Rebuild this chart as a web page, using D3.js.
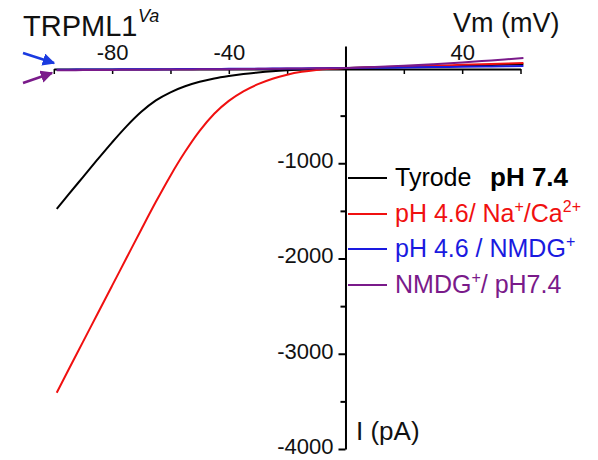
<!DOCTYPE html>
<html><head><meta charset="utf-8">
<script src="https://cdn.jsdelivr.net/npm/d3@7/dist/d3.min.js"></script>
<style>
html,body{margin:0;padding:0;background:#fff;}
svg{display:block;font-family:"Liberation Sans",Arial,sans-serif;}
</style></head>
<body>
<svg id="chart" width="598" height="460"></svg>
<script>
// ---- data ----
const voltage = [-99,-95,-90,-85,-80,-75,-70,-65,-60,-55,-50,-45,-40,-35,-30,-25,-20,-15,-10,-5,0,10,20,30,40,50,61];
const tyrode  = [-1480,-1330,-1145,-960,-780,-610,-460,-340,-255,-192,-145,-110,-84,-63,-47,-34,-24,-16,-9,-4,0,5,11,17,24,31,40];
const ph46Na  = [-3410,-3170,-2875,-2580,-2285,-1990,-1695,-1405,-1130,-880,-660,-480,-345,-245,-170,-112,-70,-40,-20,-8,0,8,16,24,33,42,52];
const ph46NMDG= [-18,-17,-16,-16,-15,-14,-14,-13,-12,-11,-11,-10,-9,-8,-7,-6,-5,-4,-3,-1,0,3,6,10,13,17,21];
const nmdg74  = [-24,-23,-22,-21,-20,-19,-18,-17,-16,-15,-14,-13,-12,-10,-9,-8,-6,-5,-3,-2,0,11,24,40,58,80,104];
const seriesColors = ["#000000","#f01010","#1a1ae0","#7a1a8a"];
const xLabelTicks = [-80,-40,40];
const xTicks = [-100,-80,-60,-40,-20,20,40,60];
const yMajorTicks = [-1000,-2000,-3000,-4000];
const yMinorTicks = [-500,-1500,-2500,-3500];

const svg = d3.select("#chart");
const x = d3.scaleLinear().domain([-100,60]).range([53.8,520.5]);
const y = d3.scaleLinear().domain([230,-4000]).range([46.1,449]);
const x0 = x(0), y0 = y(0);

// x axis ticks (below) and labels (above)
const gxt = svg.append("g").attr("transform",`translate(0,${y0+1})`)
  .call(d3.axisBottom(x).tickValues(xTicks).tickSize(5).tickSizeOuter(0).tickFormat(""));
gxt.select(".domain").attr("stroke","#000").attr("stroke-width",2);
gxt.selectAll(".tick line").attr("stroke","#000").attr("stroke-width",1.5);
const gxl = svg.append("g").attr("transform",`translate(0,${y0-2})`)
  .call(d3.axisTop(x).tickValues(xLabelTicks).tickSize(0).tickPadding(6).tickFormat(d=>d));
gxl.select(".domain").remove();
gxl.selectAll("text").attr("font-size",22).attr("fill","#111").attr("font-family","Liberation Sans, Arial, sans-serif");

// y axis
const gy = svg.append("g").attr("transform",`translate(${x0},0)`)
  .call(d3.axisLeft(y).tickValues(yMajorTicks).tickSize(7).tickSizeOuter(0).tickPadding(5).tickFormat(d=>d));
gy.select(".domain").attr("stroke","#000").attr("stroke-width",2);
gy.selectAll(".tick line").attr("stroke","#000").attr("stroke-width",2);
gy.selectAll("text").attr("font-size",22).attr("dy","0.2em").attr("fill","#111").attr("font-family","Liberation Sans, Arial, sans-serif");
const gym = svg.append("g").attr("transform",`translate(${x0},0)`)
  .call(d3.axisLeft(y).tickValues(yMinorTicks).tickSize(5).tickSizeOuter(0).tickFormat(""));
gym.select(".domain").remove();
gym.selectAll(".tick line").attr("stroke","#000").attr("stroke-width",2);

// curves
const allSeries = [tyrode, ph46Na, ph46NMDG, nmdg74];
const line = d3.line().x((d,i)=>x(voltage[i])).y(d=>y(d)).curve(d3.curveMonotoneX);
allSeries.forEach((s,k)=>{
  svg.append("path").datum(s).attr("d",line).attr("fill","none")
    .attr("stroke",seriesColors[k]).attr("stroke-width",2);
});

// legend
const legY = [178,214,249,285];
const leg = svg.append("g");
legY.forEach((ly,k)=>{
  leg.append("line").attr("x1",348).attr("x2",387).attr("y1",ly).attr("y2",ly)
    .attr("stroke",seriesColors[k]).attr("stroke-width",2);
});
const lt = (k)=>leg.append("text").attr("x",395).attr("y",legY[k]+8).attr("font-size",25).attr("fill",seriesColors[k]);
lt(0).text("Tyrode");
leg.append("text").attr("x",490).attr("y",legY[0]+8).attr("font-size",26).attr("font-weight","bold").attr("fill","#000").text("pH 7.4");
const t1 = lt(1);
t1.append("tspan").text("pH 4.6/ Na");
t1.append("tspan").attr("dy",-10).attr("font-size",16).text("+");
t1.append("tspan").attr("dy",10).text("/Ca");
t1.append("tspan").attr("dy",-10).attr("font-size",16).text("2+");
const t2 = lt(2);
t2.append("tspan").text("pH 4.6 / NMDG");
t2.append("tspan").attr("dy",-10).attr("font-size",16).text("+");
const t3 = lt(3);
t3.append("tspan").text("NMDG");
t3.append("tspan").attr("dy",-10).attr("font-size",16).text("+");
t3.append("tspan").attr("dy",10).text("/ pH7.4");

// axis titles
svg.append("text").attr("x",453).attr("y",32).attr("font-size",27).attr("fill","#111").text("Vm (mV)");
svg.append("text").attr("x",356).attr("y",440).attr("font-size",26).attr("fill","#111").text("I (pA)");

// title
svg.append("text").attr("x",23).attr("y",36).attr("font-size",29).attr("fill","#111").text("TRPML1");
svg.append("text").attr("x",138).attr("y",22).attr("font-size",18).attr("font-style","italic").attr("fill","#111").text("Va");

// arrows
const defs = svg.append("defs");
[["blueHead","#1a3ae0"],["purpleHead","#7a1a8a"]].forEach(([id,c])=>{
  defs.append("marker").attr("id",id).attr("viewBox","0 0 10 10").attr("refX",9).attr("refY",5)
    .attr("markerWidth",5).attr("markerHeight",5).attr("orient","auto")
    .append("path").attr("d","M0,0L10,5L0,10Z").attr("fill",c);
});
svg.append("line").attr("x1",23).attr("y1",53).attr("x2",54).attr("y2",63)
  .attr("stroke","#1a3ae0").attr("stroke-width",2.5).attr("marker-end","url(#blueHead)");
svg.append("line").attr("x1",23).attr("y1",83).attr("x2",52).attr("y2",73)
  .attr("stroke","#7a1a8a").attr("stroke-width",2.5).attr("marker-end","url(#purpleHead)");
</script>
</body></html>
